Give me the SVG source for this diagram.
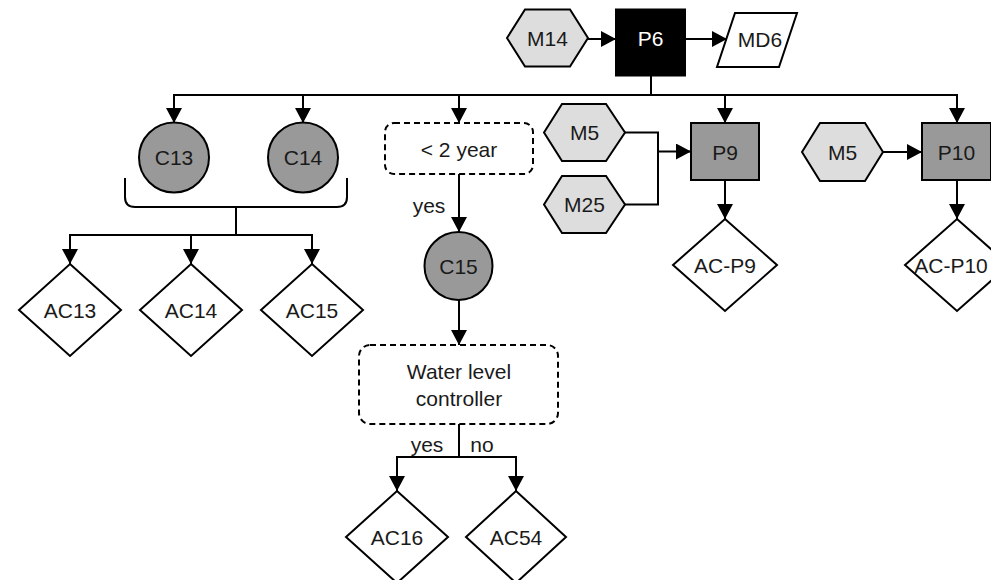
<svg xmlns="http://www.w3.org/2000/svg" width="991" height="580" viewBox="0 0 991 580">
  <style>
    .lbl { font-family: "Liberation Sans", Arial, sans-serif; font-size: 21px; fill: #1a1a1a; text-anchor: middle; }
    .inv { fill: #fff; }
    .edge { fill: none; stroke: #000; stroke-width: 2; }
    .hex { fill: #dddddd; stroke: #000; stroke-width: 2; }
    .proc { fill: #999999; stroke: #000; stroke-width: 2; }
    .dark { fill: #000; stroke: #000; stroke-width: 2; }
    .plain { fill: #fff; stroke: #000; stroke-width: 2; }
    .cond { fill: #fff; stroke: #000; stroke-width: 2; stroke-dasharray: 6 4; }
  </style>
  <defs>
    <marker id="arrow" markerUnits="userSpaceOnUse" markerWidth="16" markerHeight="16" refX="15" refY="8" orient="auto">
      <path d="M0,0 L15,8 L0,16 z" fill="#000"/>
    </marker>
  </defs>

  <rect width="991" height="580" fill="#fff"/>

  <!-- connectors -->
  <g id="connectors" class="edge">
    <line x1="588" y1="39" x2="616" y2="39" marker-end="url(#arrow)"/>
    <line x1="685" y1="39" x2="727" y2="39" marker-end="url(#arrow)"/>
    <line x1="651" y1="76" x2="651" y2="95"/>
    <line x1="173" y1="95" x2="958" y2="95"/>
    <line x1="174" y1="95" x2="174" y2="123" marker-end="url(#arrow)"/>
    <line x1="303" y1="95" x2="303" y2="123" marker-end="url(#arrow)"/>
    <line x1="459" y1="95" x2="459" y2="123" marker-end="url(#arrow)"/>
    <line x1="725" y1="95" x2="725" y2="123" marker-end="url(#arrow)"/>
    <line x1="957" y1="95" x2="957" y2="123" marker-end="url(#arrow)"/>

    <!-- bracket grouping C13 and C14 -->
    <path d="M125,178 L125,197 Q125,207 135,207 L337,207 Q347,207 347,197 L347,178"/>
    <line x1="236" y1="207" x2="236" y2="235"/>
    <line x1="69" y1="235" x2="313" y2="235"/>
    <line x1="70" y1="235" x2="70" y2="264" marker-end="url(#arrow)"/>
    <line x1="191" y1="235" x2="191" y2="264" marker-end="url(#arrow)"/>
    <line x1="312" y1="235" x2="312" y2="264" marker-end="url(#arrow)"/>

    <line x1="459" y1="174" x2="459" y2="232" marker-end="url(#arrow)"/>
    <line x1="459" y1="300" x2="459" y2="345" marker-end="url(#arrow)"/>
    <line x1="459" y1="424" x2="459" y2="457"/>
    <line x1="396" y1="457" x2="517" y2="457"/>
    <line x1="397" y1="457" x2="397" y2="491" marker-end="url(#arrow)"/>
    <line x1="516" y1="457" x2="516" y2="491" marker-end="url(#arrow)"/>

    <path d="M625,132.5 L658,132.5 L658,204.5 L625,204.5"/>
    <line x1="658" y1="151.5" x2="691" y2="151.5" marker-end="url(#arrow)"/>
    <line x1="725" y1="180" x2="725" y2="219" marker-end="url(#arrow)"/>
    <line x1="883" y1="152" x2="922" y2="152" marker-end="url(#arrow)"/>
    <line x1="957" y1="180" x2="957" y2="219" marker-end="url(#arrow)"/>
  </g>

  <!-- edge labels -->
  <g id="edge-labels">
    <text class="lbl" x="429" y="213">yes</text>
    <text class="lbl" x="427" y="452">yes</text>
    <text class="lbl" x="482" y="452">no</text>
  </g>

  <!-- nodes -->
  <g id="M14">
    <polygon class="hex" points="507,38 525,9.5 570,9.5 588,38 570,66.5 525,66.5"/>
    <text class="lbl" x="547.5" y="45.5">M14</text>
  </g>
  <g id="P6">
    <rect class="dark" x="616" y="9.5" width="69" height="66"/>
    <text class="lbl inv" x="650.5" y="46">P6</text>
  </g>
  <g id="MD6">
    <polygon class="plain" points="735,13 797,13 779,67 717,67"/>
    <text class="lbl" x="760" y="47">MD6</text>
  </g>
  <g id="C13">
    <circle class="proc" cx="174" cy="157.5" r="35"/>
    <text class="lbl" x="174" y="165">C13</text>
  </g>
  <g id="C14">
    <circle class="proc" cx="303" cy="157.5" r="35"/>
    <text class="lbl" x="303" y="165">C14</text>
  </g>
  <g id="age-check">
    <rect class="cond" x="385" y="123" width="148" height="51" rx="9"/>
    <text class="lbl" x="459" y="157">&lt; 2 year</text>
  </g>
  <g id="C15">
    <circle class="proc" cx="458.5" cy="266" r="34"/>
    <text class="lbl" x="458.5" y="273.5">C15</text>
  </g>
  <g id="water-level-check">
    <rect class="cond" x="359" y="345" width="199" height="79" rx="11"/>
    <text class="lbl" x="459" y="378.5">Water level</text>
    <text class="lbl" x="459" y="405.5">controller</text>
  </g>
  <g id="AC13">
    <polygon class="plain" points="70,264 121,310 70,356 19,310"/>
    <text class="lbl" x="70" y="317.5">AC13</text>
  </g>
  <g id="AC14">
    <polygon class="plain" points="191,264 242,310 191,356 140,310"/>
    <text class="lbl" x="191" y="317.5">AC14</text>
  </g>
  <g id="AC15">
    <polygon class="plain" points="312,264 363,310 312,356 261,310"/>
    <text class="lbl" x="312" y="317.5">AC15</text>
  </g>
  <g id="AC16">
    <polygon class="plain" points="397,491 448,537 397,583 346,537"/>
    <text class="lbl" x="397" y="544.5">AC16</text>
  </g>
  <g id="AC54">
    <polygon class="plain" points="516,491 566,537 516,583 466,537"/>
    <text class="lbl" x="516" y="544.5">AC54</text>
  </g>
  <g id="M5-a">
    <polygon class="hex" points="544,132.5 562,104 606,104 625,132.5 606,161 562,161"/>
    <text class="lbl" x="584.5" y="140">M5</text>
  </g>
  <g id="M25">
    <polygon class="hex" points="544,204.5 562,176 606,176 625,204.5 606,233 562,233"/>
    <text class="lbl" x="584.5" y="212">M25</text>
  </g>
  <g id="P9">
    <rect class="proc" x="691" y="123" width="68" height="57"/>
    <text class="lbl" x="725" y="159.5">P9</text>
  </g>
  <g id="AC-P9">
    <polygon class="plain" points="725,219 777,265 725,311 673,265"/>
    <text class="lbl" x="725" y="272.5">AC-P9</text>
  </g>
  <g id="M5-b">
    <polygon class="hex" points="802,152 820,123 865,123 883,152 865,181 820,181"/>
    <text class="lbl" x="842.5" y="159.5">M5</text>
  </g>
  <g id="P10">
    <rect class="proc" x="922" y="123" width="69" height="57"/>
    <text class="lbl" x="956.5" y="159.5">P10</text>
  </g>
  <g id="AC-P10">
    <polygon class="plain" points="957,219 1009,265 957,311 905,265"/>
    <text class="lbl" x="951" y="272.5">AC-P10</text>
  </g>
</svg>
